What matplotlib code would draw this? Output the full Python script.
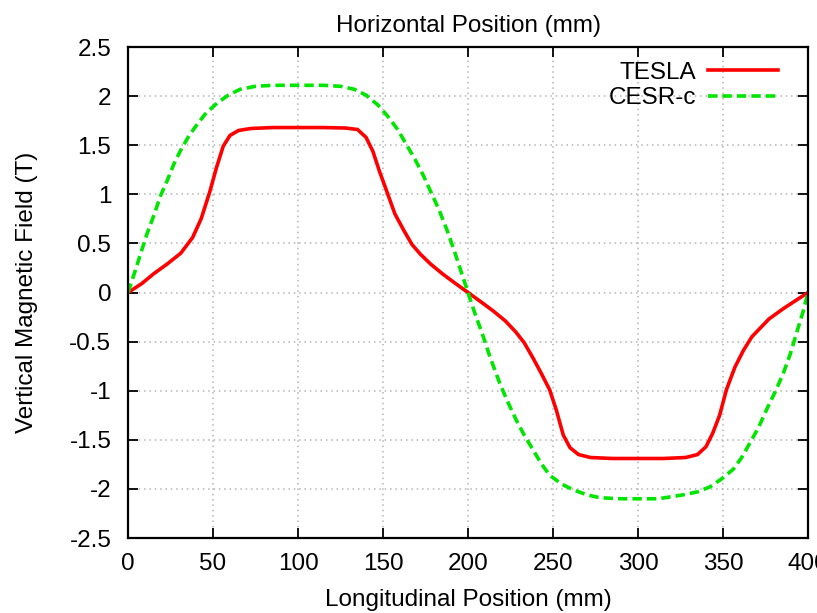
import numpy as np
import matplotlib.pyplot as plt
from matplotlib.ticker import FuncFormatter

# TESLA wiggler field
tesla_x = [0, 8, 15, 23, 31, 38, 43, 48, 52, 56, 60, 65, 72, 85, 100, 115,
           128, 135, 140, 144, 148, 152, 157, 162, 167, 172, 178, 185, 192,
           200, 208, 215, 222, 228, 233, 238, 243, 248, 252, 256, 260, 265,
           272, 285, 300, 315, 328, 335, 340, 344, 348, 352, 357, 362, 367,
           372, 377, 385, 392, 400]
tesla_b = [0, 0.09, 0.19, 0.29, 0.40, 0.56, 0.75, 1.02, 1.27, 1.49, 1.60,
           1.65, 1.67, 1.68, 1.68, 1.68, 1.675, 1.66, 1.58, 1.44, 1.23, 1.04,
           0.80, 0.64, 0.49, 0.39, 0.29, 0.19, 0.10,
           0, -0.10, -0.19, -0.29, -0.40, -0.51, -0.66, -0.82, -0.99, -1.20,
           -1.45, -1.58, -1.65, -1.68, -1.69, -1.69, -1.69, -1.68, -1.65,
           -1.57, -1.43, -1.25, -0.99, -0.76, -0.59, -0.45, -0.36, -0.27,
           -0.17, -0.09, 0]

# CESR-c wiggler field
cesr_x = [0, 4, 7.5, 11, 15.5, 19, 23.3, 27, 31, 36, 41, 46, 52.5, 59, 66,
          75, 85, 100, 115, 125, 133, 140, 147, 153, 158.6, 164, 169, 173.5,
          178, 183, 188, 192, 196,
          200, 204, 208.8, 213, 218.6, 223, 228.4, 233, 238.2, 243, 248, 255,
          262, 270, 277.5, 290, 300, 312, 326.6, 335, 342.2, 349, 356, 361,
          365.9, 371, 375.7, 381, 385.5, 389.5, 393.3, 397, 400]
cesr_b = [0, 0.21, 0.40, 0.59, 0.80, 0.98, 1.15, 1.31, 1.45, 1.60, 1.72,
          1.83, 1.93, 2.01, 2.07, 2.10, 2.11, 2.11, 2.11, 2.10, 2.07, 2.01,
          1.91, 1.79, 1.66, 1.50, 1.35, 1.20, 1.03, 0.84, 0.62, 0.42, 0.21,
          0, -0.21, -0.44, -0.66, -0.92, -1.10, -1.30, -1.45, -1.60, -1.74,
          -1.86, -1.95, -2.01, -2.06, -2.09, -2.10, -2.10, -2.10, -2.06,
          -2.03, -1.98, -1.90, -1.80, -1.68, -1.53, -1.37, -1.19, -1.00,
          -0.82, -0.63, -0.41, -0.20, 0]

x_ticks = [0, 50, 100, 150, 200, 250, 300, 350, 400]
y_ticks = [-2.5, -2, -1.5, -1, -0.5, 0, 0.5, 1, 1.5, 2, 2.5]

plt.rcParams["font.family"] = ["Liberation Sans", "DejaVu Sans"]
plt.rcParams["font.size"] = 17.5

fig = plt.figure(figsize=(8.17, 6.13), dpi=100)
ax = fig.add_axes([0.1567, 0.1223, 0.8323, 0.801])

ax.plot(tesla_x, tesla_b, color="#ff0000", lw=2.6, label="TESLA",
        solid_joinstyle="round")
ax.plot(cesr_x, cesr_b, color="#00e600", lw=2.6, linestyle=(0, (2.6, 1.4)),
        label="CESR-c")

ax.set_xlim(0, 400)
ax.set_ylim(-2.5, 2.5)
ax.set_xticks(x_ticks)
ax.set_yticks(y_ticks)
ax.yaxis.set_major_formatter(FuncFormatter(lambda v, p: f"{v:g}"))
ax.tick_params(direction="in", length=7, width=1.3, top=True, right=True)
ax.tick_params(axis="x", pad=11)
ax.tick_params(axis="y", pad=12)
for s in ax.spines.values():
    s.set_linewidth(1.6)

ax.grid(True, color="#b4b4b4", linestyle=(0, (1, 2.5)), linewidth=1.1)
ax.set_axisbelow(True)

ax.set_title("Horizontal Position (mm)", fontsize=17.5, pad=11)
ax.set_xlabel("Longitudinal Position (mm)", labelpad=10)
ax.set_ylabel("Vertical Magnetic Field (T)")
ax.yaxis.set_label_coords(-0.133, 0.5)

ax.legend(loc="upper right", bbox_to_anchor=(0.978, 1.0), frameon=False,
          markerfirst=False, handlelength=2.9, handletextpad=0.5,
          labelspacing=0.15, borderaxespad=0.2, fontsize=17.5)

fig.savefig("out.png", dpi=100)
